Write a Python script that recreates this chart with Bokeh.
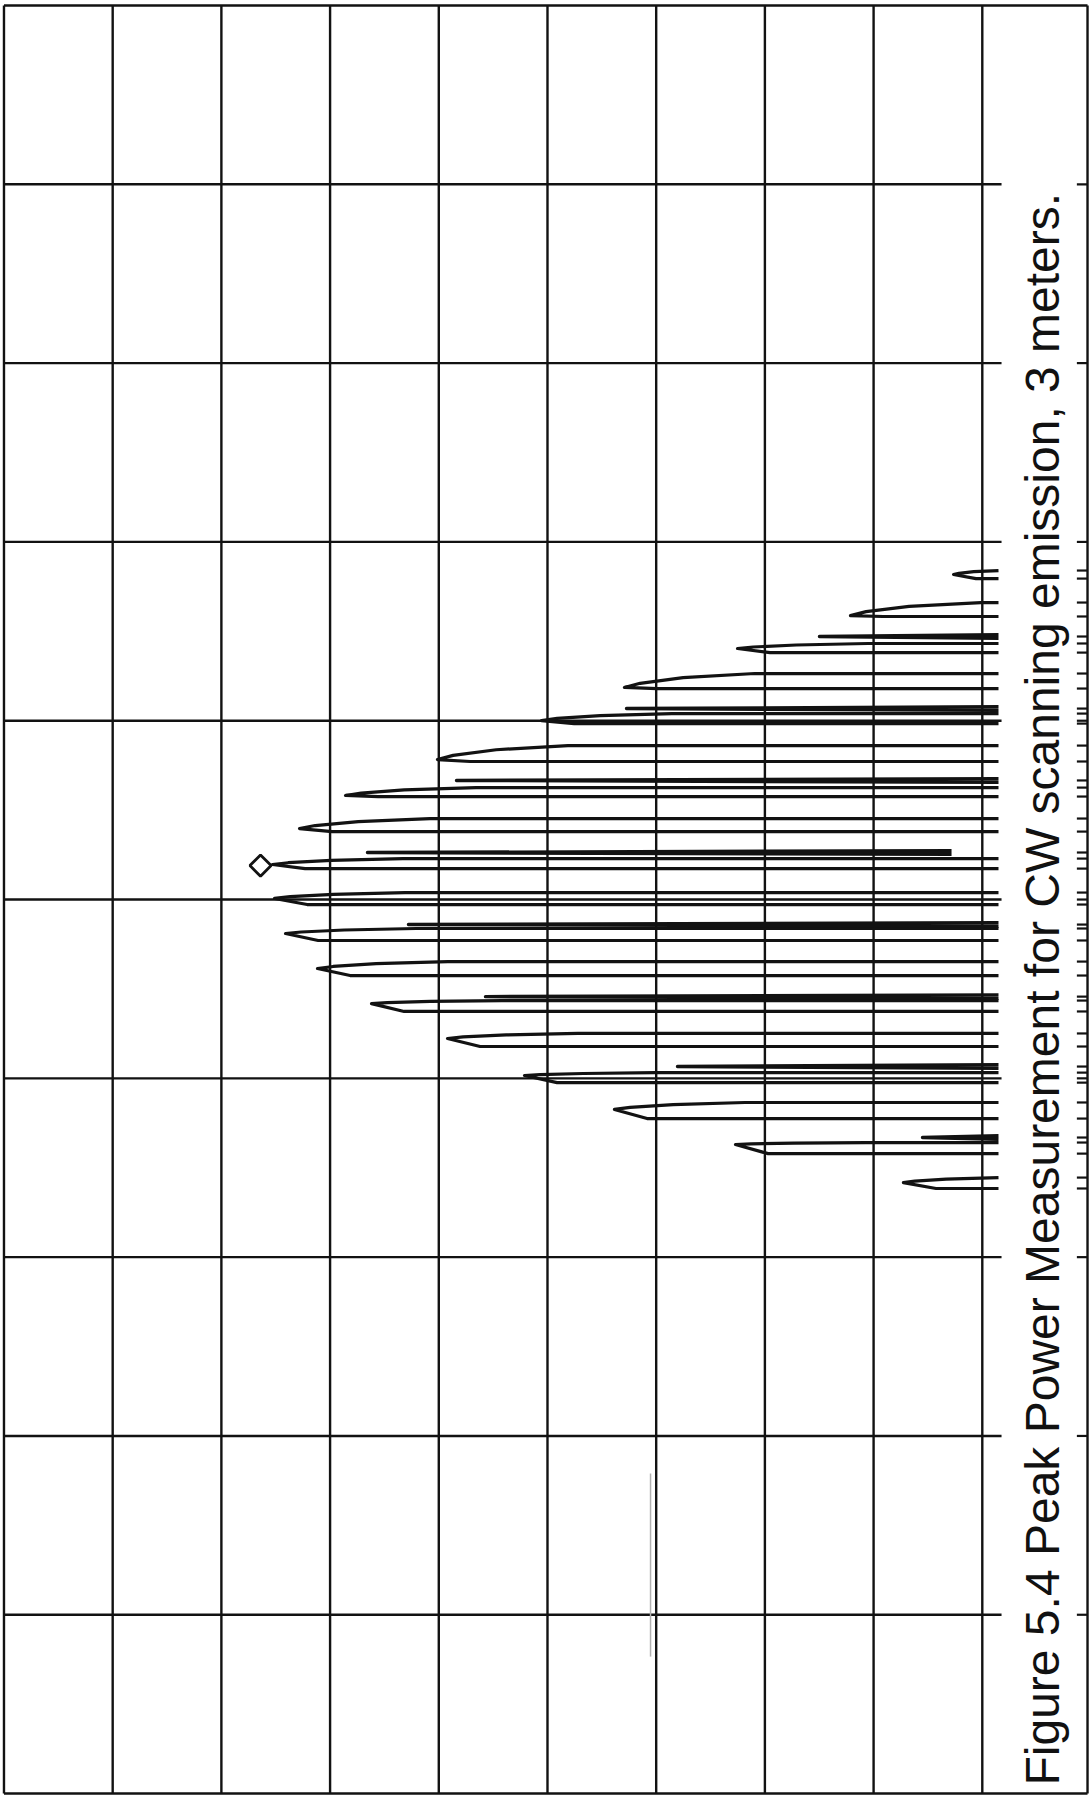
import math
from bokeh.plotting import figure
from bokeh.models import Range1d
from bokeh.embed import file_html
from bokeh.resources import INLINE
from bokeh.core.properties import value

# ---------------- data ----------------
# Units: amplitude in graticule divisions measured leftwards from the right-hand
# graticule line; frequency in divisions measured downwards from the top border.
amp_grid = [0, 1, 2, 3, 4, 5, 6, 7, 8, 9]
freq_grid = [0, 1, 2, 3, 4, 5, 6, 7, 8, 9, 10]

# Emission peaks (upper edge, tip, lower edge in frequency; tip amplitude)
peak_names = ["A", "B", "D", "E", "G", "H", "J", "K", "M", "N", "P", "Q", "S", "T", "V", "W", "Y", "Z"]
peak_amp = [0.265, 1.213, 2.252, 3.292, 4.055, 5.012, 5.858, 6.281, 6.530, 6.511,
            6.410, 6.116, 5.619, 4.920, 4.212, 3.384, 2.271, 0.726]
peak_f_up = [3.160, 3.339, 3.568, 3.736, 3.960, 4.139, 4.374, 4.547, 4.771, 4.961,
             5.162, 5.347, 5.565, 5.749, 5.968, 6.135, 6.359, 6.555]
peak_f_tip = [3.182, 3.412, 3.596, 3.814, 3.999, 4.217, 4.418, 4.603, 4.804, 4.994,
              5.190, 5.386, 5.582, 5.777, 5.984, 6.174, 6.370, 6.583]
peak_f_low = [3.205, 3.417, 3.619, 3.820, 4.016, 4.228, 4.424, 4.620, 4.827, 5.028,
              5.229, 5.425, 5.626, 5.822, 6.024, 6.225, 6.421, 6.616]

# Narrow spikes (drawn as heavy double strokes)
spike_f = [3.529, 3.932, 4.334, 4.737, 5.140, 5.543, 5.934, 6.331]
spike_amp = [1.498, 3.273, 4.837, 5.656, 5.279, 4.570, 2.804, 0.550]
spike_end_amp = [-0.149, -0.149, -0.149, 0.283, -0.149, -0.149, -0.149, -0.149]

# Peak marker (diamond)
marker_amp = [6.640]
marker_f = [4.810]

# Faint pencil stroke in the lower part of the sheet
pencil_amp = [3.052, 3.052]
pencil_f = [8.210, 9.234]

caption = "Figure 5.4 Peak Power Measurement for CW scanning emission, 3 meters."

# ---------------- layout constants ----------------
A_BASE = -0.149      # right end of the traces
A_GRID_END = -0.177  # right end of inner horizontal graticule lines
A_FRAME = -0.968     # right border of the sheet
A_LEFT = 9.0
INK = "#121212"

p = figure(width=1090, height=1797,
           x_range=Range1d(9.032, -0.9954), y_range=Range1d(10.022, -0.028),
           x_axis_location=None, y_axis_location=None,
           toolbar_location=None, output_backend="svg", min_border=0)
p.grid.visible = False
p.outline_line_color = None
p.background_fill_color = "white"
p.border_fill_color = "white"

# graticule
vx, vy = [], []
for a in amp_grid:
    vx.append([a, a]); vy.append([0, 10])
p.multi_line(vx, vy, line_color=INK, line_width=2.4)

hx, hy = [], []
for f in freq_grid:
    if f in (0, 10):
        hx.append([A_LEFT, A_FRAME])
    else:
        hx.append([A_LEFT, A_GRID_END])
    hy.append([f, f])
p.multi_line(hx, hy, line_color=INK, line_width=2.4)
# right border of the sheet
p.multi_line([[A_FRAME, A_FRAME]], [[0, 10]], line_color=INK, line_width=2.4)

# peaks
px, py = [], []
for a_tip, fu, ft, fl in zip(peak_amp, peak_f_up, peak_f_tip, peak_f_low):
    span = min(1.2, a_tip - A_BASE)
    xs = [A_BASE, a_tip - span, a_tip - 0.45 * span, a_tip - 0.12 * span, a_tip]
    ys = [fu, fu, fu + 0.3 * (ft - fu), fu + 0.7 * (ft - fu), ft]
    corner = min(0.3, (a_tip - A_BASE) * 0.5)
    xs += [a_tip - corner, A_BASE]
    ys += [fl, fl]
    px.append(xs); py.append(ys)
p.multi_line(px, py, line_color=INK, line_width=3.2, line_join="round")

# spikes
sx, sy = [], []
for f, a_tip, a_end in zip(spike_f, spike_amp, spike_end_amp):
    sx.append([a_end, a_tip, a_end])
    sy.append([f - 0.01, f, f + 0.01])
p.multi_line(sx, sy, line_color=INK, line_width=3.4, line_join="round")

# tick dashes in the right-hand margin
dash_f = sorted(set([f for f in freq_grid if 0 < f < 10] + peak_f_up + peak_f_low + spike_f))
dx = [[-0.870, A_FRAME] for _ in dash_f]
dy = [[f, f] for f in dash_f]
p.multi_line(dx, dy, line_color=INK, line_width=2.2)

# diamond marker
p.scatter(marker_amp, marker_f, marker="square", angle=math.pi / 4, size=15,
          fill_color=None, line_color=INK, line_width=2.8)

# pencil stroke
p.line(pencil_amp, pencil_f, line_color="#b0b0b0", line_width=1.5)

# caption
p.text(x=[-0.554], y=[9.955], text=[caption], angle=math.pi / 2,
       text_font=value("Liberation Sans"), text_font_size="48px",
       text_color="#111111", text_align="left", text_baseline="alphabetic")

open("out.html", "w").write(file_html(p, INLINE))
